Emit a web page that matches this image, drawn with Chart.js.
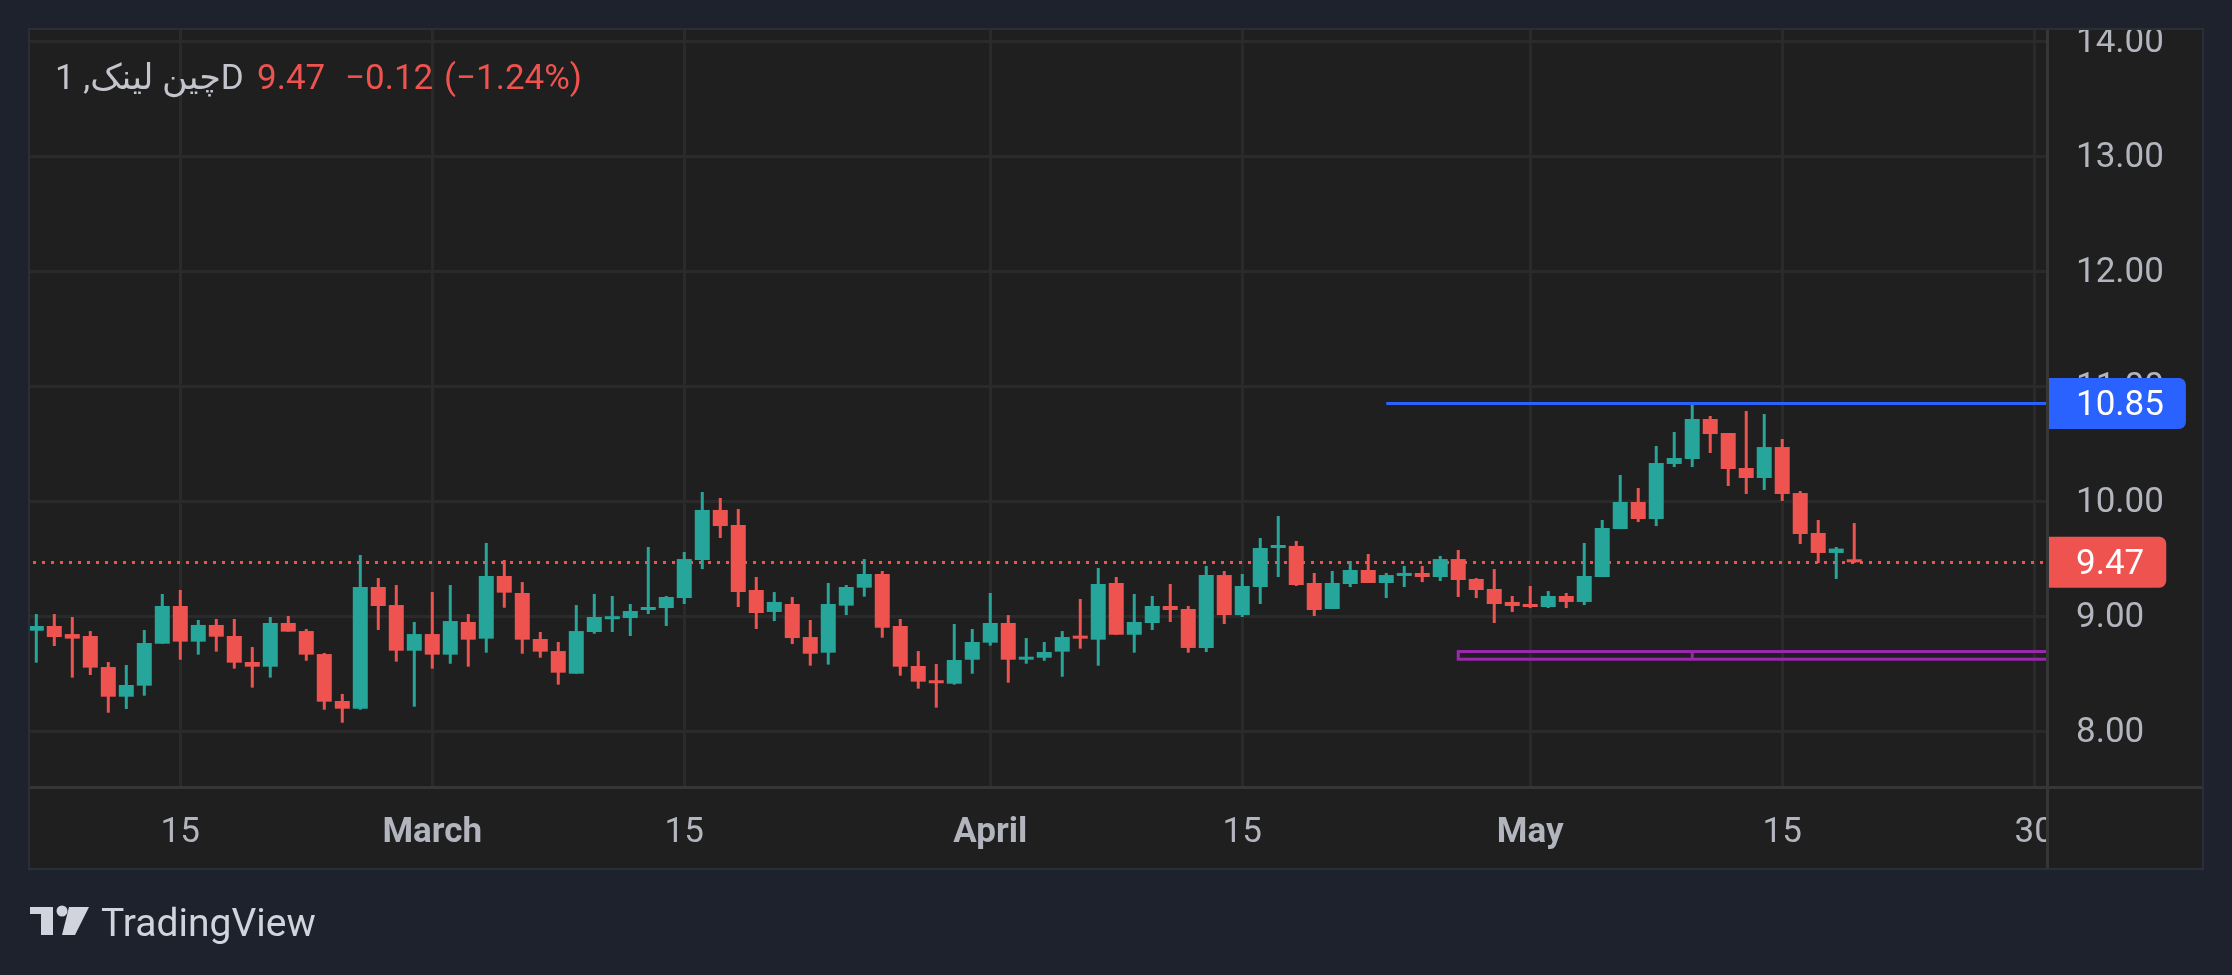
<!DOCTYPE html>
<html>
<head>
<meta charset="utf-8">
<script src="https://cdn.jsdelivr.net/npm/chart.js@4.4.1/dist/chart.umd.min.js"></script>
<style>
  html, body { margin: 0; padding: 0; background: #1e222d; overflow: hidden; }
  #wrap { position: absolute; left: 0; top: 0; width: 2232px; height: 975px; }
</style>
</head>
<body>
<div id="wrap"><canvas id="chart"></canvas></div>
<script>
// daily candles, first one sits on day index 6 (day 0 = 1 Feb)
const firstDay = 6;
const opens = [
	8.875, 8.916, 8.846, 8.829, 8.559, 8.301, 8.397, 8.762, 9.090, 8.780,
	8.925, 8.829, 8.603, 8.562, 8.942, 8.872, 8.672, 8.264, 8.197, 9.255,
	9.098, 8.701, 8.846, 8.667, 8.951, 8.806, 9.351, 9.203, 8.803, 8.698,
	8.501, 8.864, 8.975, 8.985, 9.055, 9.072, 9.159, 9.490, 9.925, 9.794,
	9.229, 9.038, 9.107, 8.820, 8.684, 9.093, 9.249, 9.368, 8.916, 8.568,
	8.435, 8.414, 8.623, 8.771, 8.942, 8.623, 8.640, 8.693, 8.829, 8.797,
	9.290, 8.840, 8.942, 9.090, 9.064, 8.725, 9.359, 9.011, 9.255, 9.594,
	9.612, 9.290, 9.064, 9.281, 9.403, 9.290, 9.351, 9.377, 9.342, 9.498,
	9.325, 9.238, 9.125, 9.107, 9.081, 9.177, 9.125, 9.342, 9.759, 9.994,
	9.846, 10.325, 10.368, 10.716, 10.594, 10.290, 10.203, 10.472, 10.072, 9.725,
	9.551, 9.490
];
const highs = [
	9.020, 9.020, 8.994, 8.872, 8.603, 8.577, 8.881, 9.194, 9.229, 8.968,
	8.977, 8.977, 8.733, 8.994, 9.003, 8.890, 8.681, 8.325, 9.533, 9.333,
	9.272, 8.951, 9.211, 9.272, 9.020, 9.638, 9.490, 9.298, 8.864, 8.777,
	9.098, 9.194, 9.177, 9.107, 9.603, 9.177, 9.559, 10.081, 10.029, 9.933,
	9.342, 9.211, 9.168, 8.968, 9.290, 9.272, 9.498, 9.394, 8.977, 8.698,
	8.585, 8.933, 8.890, 9.203, 9.011, 8.811, 8.777, 8.872, 9.151, 9.420,
	9.342, 9.194, 9.177, 9.281, 9.090, 9.438, 9.394, 9.368, 9.681, 9.872,
	9.655, 9.377, 9.394, 9.481, 9.542, 9.377, 9.438, 9.438, 9.525, 9.577,
	9.333, 9.411, 9.177, 9.264, 9.220, 9.203, 9.638, 9.838, 10.229, 10.116,
	10.481, 10.603, 10.850, 10.742, 10.594, 10.785, 10.759, 10.542, 10.090, 9.838,
	9.603, 9.811
];
const lows = [
	8.597, 8.742, 8.467, 8.490, 8.162, 8.194, 8.310, 8.762, 8.623, 8.667,
	8.693, 8.545, 8.380, 8.467, 8.867, 8.614, 8.188, 8.075, 8.188, 8.881,
	8.606, 8.214, 8.545, 8.588, 8.562, 8.684, 9.075, 8.675, 8.640, 8.406,
	8.501, 8.849, 8.864, 8.829, 9.020, 8.916, 9.107, 9.411, 9.681, 9.081,
	8.890, 8.959, 8.759, 8.571, 8.580, 9.011, 9.171, 8.814, 8.484, 8.371,
	8.206, 8.406, 8.501, 8.745, 8.423, 8.588, 8.614, 8.475, 8.719, 8.571,
	8.840, 8.684, 8.881, 8.951, 8.684, 8.690, 8.933, 8.994, 9.107, 9.342,
	9.264, 9.003, 9.064, 9.255, 9.290, 9.159, 9.255, 9.298, 9.307, 9.168,
	9.159, 8.942, 9.038, 9.072, 9.072, 9.072, 9.098, 9.342, 9.759, 9.820,
	9.785, 10.298, 10.298, 10.420, 10.133, 10.064, 10.099, 10.003, 9.629, 9.464,
	9.325, 9.464
];
const closes = [
	8.916, 8.820, 8.806, 8.554, 8.301, 8.403, 8.768, 9.090, 8.780, 8.925,
	8.823, 8.597, 8.562, 8.942, 8.867, 8.667, 8.258, 8.197, 9.255, 9.090,
	8.701, 8.846, 8.667, 8.959, 8.797, 9.351, 9.206, 8.797, 8.693, 8.510,
	8.872, 8.994, 8.990, 9.046, 9.081, 9.168, 9.498, 9.925, 9.785, 9.211,
	9.029, 9.125, 8.811, 8.675, 9.107, 9.255, 9.368, 8.901, 8.562, 8.432,
	8.418, 8.620, 8.777, 8.942, 8.623, 8.646, 8.690, 8.820, 8.806, 9.281,
	8.840, 8.951, 9.090, 9.055, 8.725, 9.359, 9.011, 9.264, 9.594, 9.620,
	9.272, 9.055, 9.290, 9.403, 9.290, 9.359, 9.377, 9.342, 9.498, 9.316,
	9.229, 9.107, 9.090, 9.081, 9.177, 9.125, 9.351, 9.768, 9.994, 9.846,
	10.333, 10.377, 10.716, 10.585, 10.281, 10.203, 10.472, 10.064, 9.716, 9.551,
	9.589, 9.470
];

const timeTicks = [14, 28, 42, 59, 73, 89, 103, 117];
const timeLabels = ["15", "March", "15", "April", "15", "May", "15", "30"];
const monthLabels = ["March", "April", "May"];
const priceTicks = [8, 9, 10, 11, 12, 13, 14];

const symbolTitle = "چین لینک, 1D";
// drawings on the chart
const levelPrice = 10.85;
const levelFromDay = 81;
const zoneLow = 8.627;
const zoneHigh = 8.694;
const zoneFromDay = 85;
const zoneMarkDay = 98;

const UP = "#26a69a";
const DOWN = "#ef5350";
const TEXT = "#b2b5be";
const FONT = "Roboto, 'DejaVu Sans', sans-serif";
const FS = 35;
const PANE = { left: 29, top: 29, right: 2203, bottom: 869 };

const days = closes.map((_, i) => firstDay + i);
const colorAt = (i) => (closes[i] >= opens[i] ? UP : DOWN);
const bodies = days.map((d, i) => ({
	x: d,
	y: [Math.min(opens[i], closes[i]), Math.max(opens[i], closes[i])],
}));
const wicks = days.map((d, i) => ({ x: d, y: [lows[i], highs[i]] }));

const last = closes.length - 1;
const lastClose = closes[last];
const change = lastClose - closes[last - 1];
const changePct = (change / closes[last - 1]) * 100;
const minus = (s) => s.replace("-", "\u2212");

const noPad = (s) => {
	s.paddingTop = 0;
	s.paddingBottom = 0;
	s.paddingLeft = 0;
	s.paddingRight = 0;
};

const tvExtras = {
	id: "tvExtras",
	beforeDraw(chart) {
		const c = chart.ctx;
		c.save();
		c.fillStyle = "#1f1f1f";
		c.fillRect(PANE.left, PANE.top, PANE.right - PANE.left, PANE.bottom - PANE.top);
		c.restore();
	},
	beforeDatasetsDraw(chart) {
		const c = chart.ctx;
		const a = chart.chartArea;
		const y = Math.round(chart.scales.y.getPixelForValue(lastClose)) + 0.5;
		c.save();
		c.strokeStyle = colorAt(last);
		c.lineWidth = 3;
		c.setLineDash([3, 6]);
		c.beginPath();
		c.moveTo(a.left + 3, y);
		c.lineTo(a.right, y);
		c.stroke();
		c.restore();
	},
	afterDatasetsDraw(chart) {
		const c = chart.ctx;
		const a = chart.chartArea;
		const xs = chart.scales.x;
		const ys = chart.scales.y;
		c.save();
		c.beginPath();
		c.rect(a.left, a.top, a.right - a.left, a.bottom - a.top);
		c.clip();

		// horizontal level
		const ly = ys.getPixelForValue(levelPrice);
		c.strokeStyle = "#2962ff";
		c.lineWidth = 3;
		c.beginPath();
		c.moveTo(xs.getPixelForValue(levelFromDay), ly);
		c.lineTo(a.right, ly);
		c.stroke();

		// thin purple zone
		const zx = xs.getPixelForValue(zoneFromDay);
		const zt = ys.getPixelForValue(zoneHigh);
		const zb = ys.getPixelForValue(zoneLow);
		c.strokeStyle = "#9c27b0";
		c.lineWidth = 3;
		c.strokeRect(zx, zt, a.right + 10 - zx, zb - zt);
		const mx = xs.getPixelForValue(zoneMarkDay);
		c.beginPath();
		c.moveTo(mx, zt);
		c.lineTo(mx, zb);
		c.stroke();
		c.restore();
	},
	afterDraw(chart) {
		const c = chart.ctx;
		const a = chart.chartArea;
		const ys = chart.scales.y;
		const W = chart.width;
		c.save();

		// hide the part of the last date label running into the price scale
		c.fillStyle = "#1f1f1f";
		c.fillRect(a.right, a.bottom, PANE.right - 1 - a.right, PANE.bottom - 1 - a.bottom);

		// price tags on the scale
		c.font = FS + "px " + FONT;
		c.textBaseline = "middle";
		const tag = (price, color) => {
			const y = ys.getPixelForValue(price);
			const txt = price.toFixed(2);
			const w = c.measureText(txt).width;
			const x0 = a.right + 1;
			c.fillStyle = color;
			c.beginPath();
			c.roundRect(x0, y - 25.5, 2078 + w + 20 - x0, 51, [0, 7, 7, 0]);
			c.fill();
			c.fillStyle = "#ffffff";
			c.fillText(txt, a.right + 29, y + 3);
		};
		tag(levelPrice, "#2962ff");
		tag(lastClose, colorAt(last));

		// the top price label is cut by the pane edge
		c.fillStyle = "#1e222d";
		c.fillRect(0, 0, W, PANE.top);

		// pane border and separators
		c.strokeStyle = "#2a2e39";
		c.lineWidth = 2;
		c.strokeRect(PANE.left, PANE.top, PANE.right - PANE.left, PANE.bottom - PANE.top);
		c.strokeStyle = "#363636";
		c.lineWidth = 3;
		c.beginPath();
		c.moveTo(a.right + 0.5, PANE.top + 1);
		c.lineTo(a.right + 0.5, PANE.bottom - 1);
		c.moveTo(PANE.left + 1, a.bottom + 0.5);
		c.lineTo(PANE.right - 1, a.bottom + 0.5);
		c.stroke();

		// legend line
		c.font = FS + "px " + FONT;
		c.textBaseline = "alphabetic";
		c.direction = "ltr";
		c.fillStyle = "#c3c5cc";
		c.fillText(symbolTitle, 55, 89);
		c.fillStyle = colorAt(last);
		c.fillText(lastClose.toFixed(2), 257, 89);
		c.fillText(minus(change.toFixed(2)), 345, 89);
		c.fillText("(" + minus(changePct.toFixed(2)) + "%)", 444, 89);

		// TradingView mark
		c.fillStyle = "#d1d4dc";
		c.fillRect(30, 907, 23, 7);
		c.fillRect(41, 907, 12, 28);
		c.beginPath();
		c.arc(62, 911, 5.5, 0, Math.PI * 2);
		c.fill();
		c.beginPath();
		c.moveTo(69, 907);
		c.lineTo(89, 907);
		c.lineTo(75, 935);
		c.lineTo(62, 935);
		c.closePath();
		c.fill();
		c.font = "39px " + FONT;
		c.fillText("TradingView", 101, 936);
		c.restore();
	},
};

new Chart(document.getElementById("chart"), {
	type: "bar",
	data: {
		datasets: [
			{
				data: bodies,
				backgroundColor: (ctx) => colorAt(ctx.dataIndex),
				barThickness: 15,
				minBarLength: 3,
				grouped: false,
				inflateAmount: 0,
				borderWidth: 0,
			},
			{
				data: wicks,
				backgroundColor: (ctx) => colorAt(ctx.dataIndex),
				barThickness: 3,
				grouped: false,
				inflateAmount: 0,
				borderWidth: 0,
			},
		],
	},
	options: {
		responsive: true,
		maintainAspectRatio: false,
		animation: false,
		layout: { padding: { left: 30, top: 29, right: 29, bottom: 106 } },
		plugins: {
			legend: { display: false },
			tooltip: { enabled: false },
		},
		scales: {
			x: {
				type: "linear",
				offset: false,
				min: 5.65,
				max: 117.71,
				afterBuildTicks: (s) => {
					s.ticks = timeTicks.map((v) => ({ value: v }));
				},
				afterFit: (s) => {
					s.height = 82;
					noPad(s);
				},
				grid: { color: "#2a2a2a", lineWidth: 3, drawTicks: false, offset: false },
				border: { display: false },
				ticks: {
					autoSkip: false,
					maxRotation: 0,
					padding: 25,
					color: TEXT,
					font: (ctx) => ({
						family: FONT,
						size: FS,
						weight: monthLabels.includes(timeLabels[ctx.index]) ? "bold" : "normal",
					}),
					callback: (v, i) => timeLabels[i],
				},
			},
			y: {
				position: "right",
				min: 7.516,
				max: 14.107,
				afterBuildTicks: (s) => {
					s.ticks = priceTicks.map((v) => ({ value: v }));
				},
				afterFit: (s) => {
					s.width = 156;
					noPad(s);
				},
				grid: { color: "#2a2a2a", lineWidth: 3, drawTicks: false },
				border: { display: false },
				ticks: {
					padding: 29,
					labelOffset: 2,
					color: TEXT,
					font: { family: FONT, size: FS },
					callback: (v) => Number(v).toFixed(2),
				},
			},
		},
	},
	plugins: [tvExtras],
});
</script>
</body>
</html>
